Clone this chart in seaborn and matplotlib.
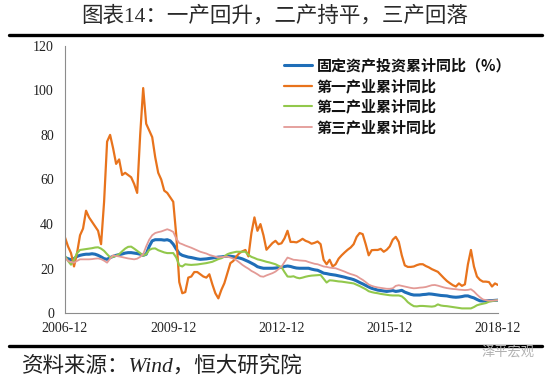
import numpy as np
import pandas as pd
import matplotlib
matplotlib.use("Agg")
import matplotlib.pyplot as plt
import seaborn as sns

# monthly points, 2006-12 .. 2018-12
tick_labels = ["2006-12", "2009-12", "2012-12", "2015-12", "2018-12"]
tick_pos = [0, 36, 72, 108, 144]

fai_total = [
    25, 24.5, 24, 24.5, 25.5, 26, 26.3, 26.5, 26.5, 26.7, 26.5, 26, 25.3, 24.5, 24.2, 25,
    25.5, 26, 26.3, 26.6, 27, 27.2, 27.2, 27, 26.8, 26.5, 26, 26.5, 30, 32.5, 33, 33,
    33, 32.8, 33, 32.5, 31, 28.8, 26.8, 26, 25.6, 25.2, 25, 24.7, 24.4, 24.2, 24.3, 24.4,
    24.6, 24.8, 25, 25.2, 25.3, 25.5, 25.6, 25.6, 25.4, 25.1, 24.8, 24.4, 23.8, 23.2, 22.5, 21.8,
    20.9, 20.5, 20.2, 20.2, 20.2, 20.2, 20.3, 20.5, 20.6, 21, 21.2, 21, 20.6, 20.3, 20.2, 20.2,
    20.2, 20.2, 19.8, 19.5, 19.3, 18.7, 18, 17.8, 17.5, 17.3, 17.1, 16.8, 16.5, 16.2, 15.8, 15.5,
    15.1, 14.5, 13.8, 13.2, 12.5, 11.8, 11.2, 10.8, 10.4, 10.2, 10, 9.8, 10, 10.2, 9.8, 10,
    10.3, 9.5, 9, 8.5, 8.2, 8.2, 8.2, 8.4, 8.5, 8.7, 8.6, 8.4, 8.2, 8, 7.9, 7.8,
    7.5, 7.3, 7.2, 7.3, 7.5, 7.8, 7.8, 7.3, 6.9, 6.2, 5.6, 5.5, 5.6, 5.7, 5.7, 5.8,
    5.9,
]

primary = [
    34, 30, 27, 21, 27, 35, 38, 46, 43, 41, 39, 37, 31, 50, 77, 80,
    74, 67, 69, 62, 63, 62, 61, 58, 54, 80, 101, 85, 82, 79, 70, 63,
    60, 55, 54, 52, 50, 35, 14, 9, 9.5, 16, 16.5, 18.5, 18.5, 17.5, 16.5, 16,
    17.5, 13, 9, 6.7, 10.5, 13.5, 18, 22.5, 23.5, 25.5, 27, 27.8, 28.4, 25.5, 36, 43,
    37, 40, 35, 28.5, 30, 31.5, 32.5, 31, 31.4, 33.6, 37, 32, 32, 31.8, 32.5, 33.4,
    32.5, 32, 31.2, 31.6, 32.2, 31, 24, 22, 24, 21, 22, 24.5, 26, 27.3, 28.5, 29.5,
    31, 34.3, 36, 35.5, 31, 26, 28.3, 28.4, 28.4, 28.9, 27.6, 28.5, 30, 33, 34.3, 32,
    26, 21.5, 20.8, 20.8, 21, 21.6, 22, 22, 21.2, 20.6, 19.8, 19.2, 18.6, 17.2, 15.8, 14.5,
    13.5, 12.6, 12, 13.4, 12.3, 13, 22, 28.4, 21, 16.5, 15, 14.2, 14.2, 14, 12, 13.4,
    12.7,
]

secondary = [
    25.7, 23.5, 21.8, 24, 27, 28.4, 28.6, 28.8, 29, 29.2, 29.5, 29.6, 29, 28, 26.5, 25.1,
    25.3, 25.8, 26.5, 27.8, 29, 29.8, 29.9, 29, 28, 27, 25.8, 26.5, 28.4, 29, 29.1, 28.3,
    27.8, 27.3, 27, 27, 27, 25, 21.5, 21, 22, 21.8, 21.7, 21.8, 21.9, 22.1, 22.3, 22.5,
    22.8, 23.1, 23.7, 24.3, 24.7, 25.5, 26.5, 27, 27.3, 27.6, 27.6, 27.6, 27.6, 26.2, 25.3, 24.8,
    24.2, 23.9, 23.5, 23.1, 22.8, 22.4, 22, 21.3, 20.7, 18.5, 16.5, 16.4, 16.6, 16, 15.7, 16,
    16.4, 16.7, 16.9, 17, 17.1, 17.2, 15.5, 13.8, 14.8, 14.7, 14.5, 14.3, 14.2, 14, 13.8, 13.6,
    13.4, 12.8, 12.2, 11.5, 10.8, 9.9, 9.5, 9.2, 9, 8.7, 8.5, 8.3, 8.1, 8, 8, 8,
    7.6, 6.5, 5, 4, 3.2, 3.1, 3.3, 3.3, 3.2, 3.1, 3, 3.2, 4, 3.5, 3.3, 3.2,
    3, 2.8, 2.6, 2.4, 2.2, 2.2, 2.2, 2.2, 2.8, 3.6, 4, 4.3, 4.6, 5.2, 5.5, 5.7,
    5.9,
]

tertiary = [
    25, 23.5, 23, 22.7, 23.5, 24.2, 24.2, 24.2, 24.2, 24.3, 24.5, 24.6, 24.3, 23.6, 22.7, 24.5,
    26, 25.7, 25.5, 25.2, 24.9, 24.6, 24.4, 24.2, 24.5, 25.3, 26.5, 30, 33, 35, 36, 36.4,
    36.7, 37.2, 37.7, 37.2, 36.5, 33.5, 31.5, 31, 30.4, 29.9, 29.4, 28.8, 28.2, 27.6, 27.2, 26.8,
    26.2, 25.8, 25.4, 25.1, 25.2, 25.3, 25.4, 25, 24.5, 23.8, 22.8, 21.7, 20.8, 20, 19, 18.3,
    17.5, 16.6, 16.4, 17, 17.5, 18, 18.7, 19.8, 20.9, 23, 25, 24.5, 24, 23.9, 23.7, 23.6,
    23.5, 23, 22.6, 22.2, 22, 21.5, 21, 20.8, 20.5, 20.3, 20.2, 19.7, 19.2, 18.7, 18.1, 17.6,
    17.2, 16.7, 15.8, 15, 14, 12.9, 12.3, 11.9, 11.6, 11.4, 11.2, 11, 11, 11.2, 12.3, 12.6,
    12.3, 12, 11.7, 11.4, 11.2, 11.3, 11.5, 11.6, 11.8, 12.2, 12.6, 12.7, 12.4, 12, 11.6, 11.3,
    11.1, 10.9, 10.8, 10.6, 10.5, 10.4, 10.5, 10.8, 9.8, 8.4, 7.2, 6.2, 5.9, 5.7, 5.7, 5.8,
    5.9,
]

names = ["固定资产投资累计同比（%）", "第一产业累计同比", "第二产业累计同比", "第三产业累计同比"]
colors = ["#1F6EB8", "#E8731C", "#92C84C", "#E39A96"]
widths = [2.2, 1.6, 1.5, 1.3]

sns.set_style("white")
plt.rcParams["font.family"] = ["Noto Sans CJK SC", "DejaVu Sans"]
serif_cjk = ["Liberation Serif", "Noto Sans CJK SC"]

fig = plt.figure(figsize=(5.5, 3.77), dpi=100)
ax = fig.add_axes([65 / 550, 1 - 313.3 / 377, (498 - 65) / 550, (313.3 - 45.7) / 377])

series = [fai_total, primary, secondary, tertiary]
for name, vals, c, w in zip(names, series, colors, widths):
    d = pd.DataFrame({"month": np.arange(len(vals)), "value": vals})
    sns.lineplot(data=d, x="month", y="value", ax=ax, color=c, linewidth=w, label=name)

ax.set_xlim(0, 144)
ax.set_ylim(0, 120)
ax.set_yticks([0, 20, 40, 60, 80, 100, 120])
ax.set_xticks(tick_pos)
ax.set_xticklabels(tick_labels)
ax.set_xlabel("")
ax.set_ylabel("")
for s in ["top", "right"]:
    ax.spines[s].set_visible(False)
for s in ["left", "bottom"]:
    ax.spines[s].set_color("#8c8c8c")
    ax.spines[s].set_linewidth(0.8)
ax.tick_params(axis="both", direction="out", length=3, width=0.8, color="#8c8c8c")
ax.tick_params(axis="y", pad=5)
ax.tick_params(axis="x", pad=3)
for lab in ax.get_xticklabels() + ax.get_yticklabels():
    lab.set_fontfamily("Liberation Serif")
    lab.set_fontsize(10)
    lab.set_color("#222222")

leg = ax.legend(loc="upper left", bbox_to_anchor=(276 / 550, 1 - 50 / 377),
                bbox_transform=fig.transFigure, frameon=False, borderpad=0,
                handlelength=1.9, handletextpad=0.3, labelspacing=0.3,
                prop={"family": ["Noto Sans CJK SC", "DejaVu Sans"], "weight": "bold", "size": 10.8})
for t in leg.get_texts():
    t.set_color("#111111")

# title and rules
fig.text(0.5, 1 - 16 / 377, "图表14：一产回升，二产持平，三产回落", ha="center", va="center",
         fontsize=15.5, color="#2a2a2a", family=serif_cjk)
fig.add_artist(plt.Line2D([9 / 550, 542 / 550], [1 - 35 / 377] * 2, color="black", lw=2.4))
fig.add_artist(plt.Line2D([9 / 550, 542 / 550], [1 - 346 / 377] * 2, color="black", lw=2.4))
fig.text(22 / 550, 1 - 366 / 377, "资料来源：Wind，恒大研究院", ha="left", va="center",
         fontsize=15.5, style="italic", color="#222222", family=serif_cjk)
fig.text(482 / 550, 1 - 352 / 377, "泽平宏观", ha="left", va="center", fontsize=9.5, color="#b0b0b0")

fig.savefig("out.png", dpi=100)
